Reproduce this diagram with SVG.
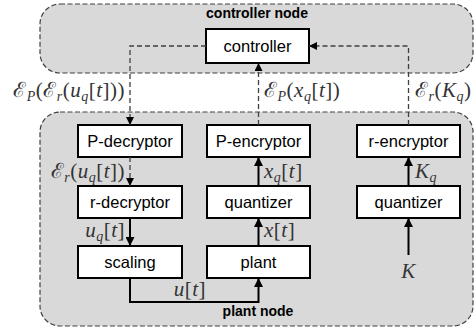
<svg xmlns="http://www.w3.org/2000/svg" width="475" height="330" viewBox="0 0 475 330">
<style>
.region{fill:#d9d9d9;stroke:#404040;stroke-width:1.2;stroke-dasharray:5,2.5}
.box{fill:#fff;stroke:#000;stroke-width:2}
.lbl{font-family:"Liberation Sans",Arial,sans-serif;font-size:16.5px;fill:#000;text-anchor:middle}
.title{font-family:"Liberation Sans",Arial,sans-serif;font-size:14px;font-weight:bold;fill:#000;text-anchor:middle}
.m{font-family:"Liberation Serif","DejaVu Serif",serif;font-size:21px;fill:#333;letter-spacing:0.5px}
.i{font-style:italic}
.s{font-size:14px;font-style:italic}
.dash{fill:none;stroke:#404040;stroke-width:1.3;stroke-dasharray:5,3}
.solid{fill:none;stroke:#000;stroke-width:2}
</style>
<defs>
<marker id="ah" viewBox="0 0 10 10" refX="10" refY="5" markerWidth="8" markerHeight="8" markerUnits="userSpaceOnUse" orient="auto">
<path d="M0,0 L10,5 L0,10 z" fill="#000"/>
</marker>
<marker id="ahs" viewBox="0 0 10 10" refX="10" refY="5" markerWidth="9" markerHeight="9" markerUnits="userSpaceOnUse" orient="auto">
<path d="M0,0 L10,5 L0,10 z" fill="#000"/>
</marker>
</defs>

<g id="controller-node">
<rect class="region" x="40" y="4" width="433" height="69" rx="20"/>
<text class="title" x="257" y="18">controller node</text>
</g>
<g id="plant-node">
<rect class="region" x="40" y="112" width="433" height="214" rx="20"/>
<text class="title" x="258" y="316">plant node</text>
</g>

<g id="controller">
<rect class="box" x="206" y="29" width="103" height="34"/>
<text class="lbl" x="257.5" y="52">controller</text>
</g>
<g id="p-decryptor">
<rect class="box" x="78" y="125" width="104" height="32"/>
<text class="lbl" x="130" y="147">P-decryptor</text>
</g>
<g id="p-encryptor">
<rect class="box" x="207" y="125" width="103" height="32"/>
<text class="lbl" x="258.5" y="147">P-encryptor</text>
</g>
<g id="r-encryptor">
<rect class="box" x="357" y="125" width="103" height="32"/>
<text class="lbl" x="408.5" y="147">r-encryptor</text>
</g>
<g id="r-decryptor">
<rect class="box" x="78" y="186" width="104" height="32"/>
<text class="lbl" x="130" y="208">r-decryptor</text>
</g>
<g id="quantizer-x">
<rect class="box" x="207" y="186" width="103" height="32"/>
<text class="lbl" x="258.5" y="208">quantizer</text>
</g>
<g id="quantizer-k">
<rect class="box" x="357" y="186" width="103" height="32"/>
<text class="lbl" x="408.5" y="208">quantizer</text>
</g>
<g id="scaling">
<rect class="box" x="78" y="246" width="104" height="32"/>
<text class="lbl" x="130" y="268">scaling</text>
</g>
<g id="plant">
<rect class="box" x="207" y="246" width="103" height="32"/>
<text class="lbl" x="258.5" y="268">plant</text>
</g>

<g id="connectors">
<path class="dash" d="M206,46 H130 V125" marker-end="url(#ah)"/>
<path class="dash" d="M258.5,125 V63" marker-end="url(#ah)"/>
<path class="dash" d="M408.5,125 V46 H309" marker-end="url(#ah)"/>
<path class="dash" d="M130,157 V186" marker-end="url(#ah)"/>
<path class="solid" d="M130,218 V246" marker-end="url(#ahs)"/>
<path class="solid" d="M130,278 V302 H258.5 V278" marker-end="url(#ahs)"/>
<path class="solid" d="M258.5,246 V218" marker-end="url(#ahs)"/>
<path class="solid" d="M258.5,186 V157" marker-end="url(#ahs)"/>
<path class="solid" d="M408.5,255 V218" marker-end="url(#ahs)"/>
<path class="solid" d="M408.5,186 V157" marker-end="url(#ahs)"/>

<text class="m" x="125" y="97" text-anchor="end">ℰ<tspan class="s" dy="4">P</tspan><tspan dy="-4">(ℰ</tspan><tspan class="s" dy="4">r</tspan><tspan dy="-4">(</tspan><tspan class="i">u</tspan><tspan class="s" dy="4">q</tspan><tspan dy="-4">[</tspan><tspan class="i">t</tspan>]))</text>
<text class="m" x="264" y="97">ℰ<tspan class="s" dy="4">P</tspan><tspan dy="-4">(</tspan><tspan class="i">x</tspan><tspan class="s" dy="4">q</tspan><tspan dy="-4">[</tspan><tspan class="i">t</tspan>])</text>
<text class="m" x="415" y="97">ℰ<tspan class="s" dy="4">r</tspan><tspan dy="-4">(</tspan><tspan class="i">K</tspan><tspan class="s" dy="4">q</tspan><tspan dy="-4">)</tspan></text>
<text class="m" x="125" y="178" text-anchor="end">ℰ<tspan class="s" dy="4">r</tspan><tspan dy="-4">(</tspan><tspan class="i">u</tspan><tspan class="s" dy="4">q</tspan><tspan dy="-4">[</tspan><tspan class="i">t</tspan>])</text>
<text class="m" x="125" y="237" text-anchor="end"><tspan class="i">u</tspan><tspan class="s" dy="4">q</tspan><tspan dy="-4">[</tspan><tspan class="i">t</tspan>]</text>
<text class="m" x="206" y="296" text-anchor="end"><tspan class="i">u</tspan>[<tspan class="i">t</tspan>]</text>
<text class="m" x="264" y="178"><tspan class="i">x</tspan><tspan class="s" dy="4">q</tspan><tspan dy="-4">[</tspan><tspan class="i">t</tspan>]</text>
<text class="m" x="264" y="237"><tspan class="i">x</tspan>[<tspan class="i">t</tspan>]</text>
<text class="m" x="415" y="178"><tspan class="i">K</tspan><tspan class="s" dy="4">q</tspan></text>
<text class="m" x="408.5" y="278" text-anchor="middle"><tspan class="i">K</tspan></text>
</g>
</svg>
